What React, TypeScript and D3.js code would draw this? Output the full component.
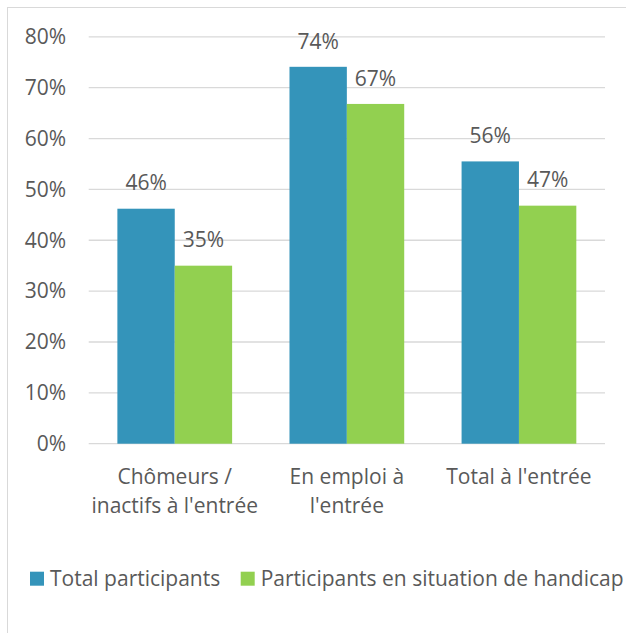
import React from "react";
import * as d3 from "d3";

const categories: string[][] = [
  ["Chômeurs /", "inactifs à l'entrée"],
  ["En emploi à", "l'entrée"],
  ["Total à l'entrée"],
];
const seriesNames = ["Total participants", "Participants en situation de handicap"];
const totalParticipants = [0.462, 0.741, 0.555];
const handicapParticipants = [0.35, 0.668, 0.468];
const yTicks = [0, 0.1, 0.2, 0.3, 0.4, 0.5, 0.6, 0.7, 0.8];
const colors = ["#3494BA", "#92D050"];

const W = 626;
const H = 633;
const left = 88.7;
const right = 605;
const top = 36.8;
const bottom = 443.7;
const FONT = "'Open Sans', sans-serif";
const TEXT = "#595959";
const FS = 21;

export default function App() {
  const x = d3
    .scaleBand<number>()
    .domain(categories.map((_, i) => i))
    .range([left, right])
    .paddingInner(1 / 3)
    .paddingOuter(1 / 6);
  const xs = d3.scaleBand<number>().domain([0, 1]).range([0, x.bandwidth()]);
  const y = d3.scaleLinear().domain([0, 0.8]).range([bottom, top]);
  const fmt = d3.format(".0%");
  const series = [totalParticipants, handicapParticipants];

  return (
    <svg
      width={W}
      height={H}
      style={{ position: "absolute", left: 0, top: 0, background: "#fff" }}
      fontFamily={FONT}
    >
      <rect x={7.5} y={7.5} width={W + 20} height={H + 20} fill="#fff" stroke="#D9D9D9" strokeWidth={1} />
      {yTicks.map((t) => (
        <g key={t}>
          <line x1={left} x2={right} y1={y(t)} y2={y(t)} stroke="#D9D9D9" strokeWidth={1.3} />
          <text x={66} y={y(t) + 7.3} textAnchor="end" fontSize={FS} fill={TEXT}>
            {fmt(t)}
          </text>
        </g>
      ))}
      {series.map((vals, s) =>
        vals.map((v, i) => {
          const bx = (x(i) as number) + (xs(s) as number);
          const bw = xs.bandwidth();
          return (
            <g key={`${s}-${i}`}>
              <rect x={bx} y={y(v)} width={bw} height={bottom - y(v)} fill={colors[s]} />
              <text x={bx + bw / 2} y={y(v) - 18.3} textAnchor="middle" fontSize={FS} fill={TEXT}>
                {fmt(v)}
              </text>
            </g>
          );
        })
      )}
      {categories.map((lines, i) => {
        const cx = (x(i) as number) + x.bandwidth() / 2;
        return (
          <text key={i} x={cx} textAnchor="middle" fontSize={FS} fill={TEXT}>
            {lines.map((l, j) => (
              <tspan key={j} x={cx} y={484.3 + j * 28.3}>
                {l}
              </tspan>
            ))}
          </text>
        );
      })}
      <g>
        <rect x={30} y={571.7} width={14} height={14} fill={colors[0]} />
        <text x={50} y={586.3} fontSize={FS} fill={TEXT}>
          {seriesNames[0]}
        </text>
        <rect x={240.7} y={571.7} width={14} height={14} fill={colors[1]} />
        <text x={260.7} y={586.3} fontSize={FS} fill={TEXT}>
          {seriesNames[1]}
        </text>
      </g>
    </svg>
  );
}
